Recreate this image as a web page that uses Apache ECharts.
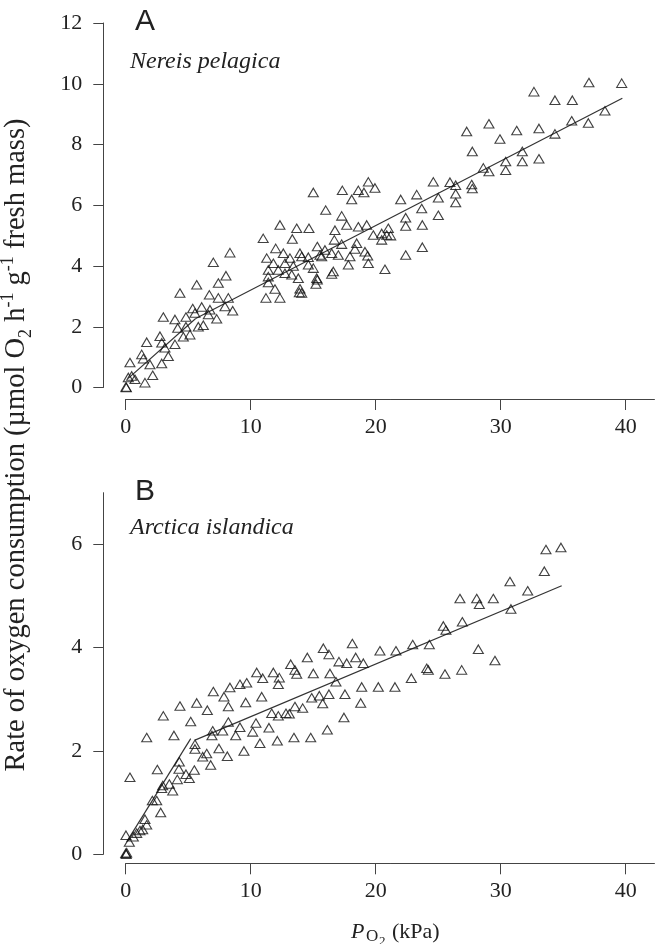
<!DOCTYPE html>
<html>
<head>
<meta charset="utf-8">
<title>Oxygen consumption</title>
<script type="text/javascript" src="https://cdn.jsdelivr.net/npm/echarts@6/dist/echarts.min.js"></script>
<style>html,body{margin:0;padding:0;background:#fff;}</style>
</head>
<body>
<div id="main" style="width:657px;height:944px;"></div>
<script type="text/javascript">
// tick values
var xTicks = [0, 10, 20, 30, 40];
var yTicksA = [0, 2, 4, 6, 8, 10, 12];
var yTicksB = [0, 2, 4, 6];

// A: Nereis pelagica  [PO2 kPa, rate]
var nereis = [
  [11.0,4.91],[12.0,4.58],[8.34,4.44],[11.28,4.26],[7.01,4.12],[11.81,4.09],[11.41,3.87],[12.21,3.87],
  [8.02,3.68],[5.68,3.38],[7.41,3.44],[11.41,3.65],[11.41,3.46],[11.94,3.24],[4.34,3.11],[6.69,3.05],
  [7.41,2.95],[8.21,2.95],[11.22,2.95],[12.34,2.95],[5.36,2.60],[6.08,2.65],[6.74,2.56],[7.94,2.67],
  [8.56,2.53],[3.01,2.32],[3.94,2.24],[4.82,2.32],[5.54,2.45],[6.61,2.40],[7.28,2.26],[6.21,2.05],
  [5.81,2.00],[4.16,1.96],[4.82,2.00],[5.14,1.74],[4.61,1.67],[2.74,1.69],[1.68,1.49],[2.88,1.47],
  [3.94,1.42],[3.14,1.31],[3.41,1.03],[1.28,1.09],[1.41,0.95],[1.94,0.76],[2.88,0.79],[0.34,0.82],
  [2.16,0.40],[0.48,0.38],[0.74,0.27],[1.54,0.16],[0.02,0.02],[0.21,0.33],[0.05,0.0],
  [19.41,6.77],[24.61,6.77],[15.01,6.42],[17.33,6.49],[18.61,6.49],[19.94,6.57],[19.06,6.42],[18.08,6.19],
  [22.0,6.19],[23.28,6.35],[25.01,6.25],[16.0,5.84],[23.68,5.89],[17.28,5.65],[22.4,5.59],[12.34,5.35],
  [13.68,5.24],[14.66,5.24],[16.74,5.18],[17.68,5.35],[18.61,5.29],[19.28,5.35],[22.4,5.32],[23.73,5.35],
  [21.01,5.24],[19.81,5.02],[20.48,5.07],[20.88,5.02],[21.2,5.0],[20.48,4.86],[13.33,4.89],[16.69,4.86],
  [17.28,4.72],[18.48,4.75],[12.61,4.42],[13.94,4.42],[15.33,4.64],[15.94,4.53],[16.48,4.42],[17.01,4.36],
  [18.34,4.56],[19.14,4.47],[19.36,4.34],[22.4,4.36],[23.73,4.62],[25.01,5.67],[13.14,4.26],[14.08,4.31],
  [14.61,4.29],[15.54,4.36],[12.74,4.09],[13.41,4.0],[14.61,4.04],[15.01,3.93],[15.68,4.31],[17.94,4.31],
  [17.81,4.04],[19.41,4.09],[12.74,3.76],[13.28,3.71],[13.81,3.6],[15.28,3.6],[16.61,3.82],[16.48,3.74],
  [20.74,3.89],[13.94,3.25],[13.89,3.13],[15.22,3.41],[15.33,3.55],[14.08,3.11],
  [37.06,10.04],[39.68,10.02],[32.66,9.74],[34.34,9.46],[35.73,9.46],[38.34,9.11],[35.68,8.78],[37.01,8.71],
  [27.28,8.43],[29.06,8.68],[31.28,8.46],[33.06,8.53],[34.34,8.35],[29.94,8.18],[27.73,7.77],[31.73,7.77],
  [30.4,7.44],[31.73,7.44],[33.06,7.53],[28.61,7.23],[29.06,7.11],[30.4,7.15],[25.94,6.76],[26.4,6.66],
  [27.68,6.68],[27.73,6.55],[26.4,6.38],[26.4,6.09]
];
var nereisFit1 = [[0.2, 0.3], [5.6, 2.27]];
var nereisFit2 = [[5.6, 2.27], [39.73, 9.52]];

// B: Arctica islandica  [PO2 kPa, rate]
var arctica = [
  [9.68,3.32],[9.14,3.29],[8.34,3.23],[7.01,3.15],[7.86,3.05],[9.6,2.94],[4.34,2.87],[5.68,2.93],
  [8.21,2.86],[6.53,2.79],[3.01,2.68],[5.2,2.57],[8.21,2.56],[9.14,2.46],[6.96,2.39],[7.76,2.39],
  [1.68,2.26],[3.86,2.3],[6.9,2.3],[8.8,2.3],[5.54,2.13],[5.54,2.04],[7.46,2.05],[9.46,2.0],
  [6.48,1.95],[6.16,1.89],[8.13,1.9],[6.8,1.73],[4.29,1.79],[5.49,1.63],[2.53,1.64],[4.26,1.65],
  [4.82,1.55],[5.09,1.47],[4.13,1.45],[0.34,1.49],[2.96,1.33],[3.49,1.36],[2.88,1.28],[3.76,1.23],
  [2.13,1.04],[2.48,1.04],[2.8,0.81],[1.54,0.68],[1.68,0.57],[1.36,0.48],[1.14,0.46],[0.88,0.41],
  [0.61,0.34],[0.02,0.37],[0.29,0.24],[0.0,0.02],[0.08,0.03],[0.04,0.0],
  [25.41,4.42],[25.62,4.34],[18.13,4.08],[15.81,3.99],[16.26,3.87],[20.34,3.94],[21.62,3.94],[22.96,4.06],
  [24.29,4.06],[14.53,3.81],[17.06,3.73],[17.68,3.70],[18.4,3.81],[19.01,3.70],[13.2,3.68],[13.54,3.57],
  [13.68,3.49],[10.48,3.52],[11.81,3.52],[10.96,3.41],[12.29,3.42],[12.21,3.29],[15.01,3.50],[16.34,3.50],
  [16.82,3.34],[24.08,3.60],[24.21,3.57],[25.54,3.49],[22.85,3.41],[18.88,3.24],[20.21,3.24],[21.54,3.24],
  [10.88,3.05],[14.88,3.03],[15.49,3.07],[16.26,3.10],[15.76,2.92],[17.54,3.10],[18.8,2.93],[13.54,2.86],
  [14.16,2.83],[11.68,2.73],[12.21,2.68],[12.82,2.73],[13.09,2.72],[17.46,2.65],[10.42,2.54],[10.16,2.37],
  [11.46,2.45],[16.13,2.41],[10.74,2.15],[12.13,2.20],[13.46,2.26],[14.8,2.26],
  [33.62,5.90],[34.82,5.94],[33.49,5.48],[30.74,5.28],[32.16,5.10],[26.74,4.95],[28.08,4.95],[29.41,4.95],
  [28.29,4.84],[30.82,4.75],[26.93,4.50],[28.21,3.97],[29.54,3.75],[26.88,3.57]
];
var arcticaFit1 = [[0.08, 0.24], [5.2, 2.24]];
var arcticaFit2 = [[5.54, 2.21], [34.88, 5.2]];

var serif = '"Liberation Serif", "Times New Roman", serif';
var sans = '"Liberation Sans", Arial, sans-serif';
var ink = '#222';
var axisGrey = '#444';

var myChart = echarts.init(document.getElementById('main'), null, {renderer: 'canvas'});

function xAxisCfg(gridIndex, off) {
    return {
        type: 'value', gridIndex: gridIndex, min: 0, max: 42.3, offset: off,
        axisLine: {show: true, onZero: false, lineStyle: {color: axisGrey, width: 1}},
        axisTick: {show: true, length: 11, customValues: xTicks, lineStyle: {color: axisGrey}},
        axisLabel: {customValues: xTicks, margin: 17, fontFamily: serif, fontSize: 22, color: ink},
        splitLine: {show: false}
    };
}
function yAxisCfg(gridIndex, max, ticks) {
    return {
        type: 'value', gridIndex: gridIndex, min: 0, max: max, offset: 22.4,
        axisLine: {show: true, onZero: false, lineStyle: {color: axisGrey, width: 1}},
        axisTick: {show: true, length: 10, customValues: ticks, lineStyle: {color: axisGrey}},
        axisLabel: {customValues: ticks, margin: 21, fontFamily: serif, fontSize: 22, color: ink},
        splitLine: {show: false}
    };
}
function pts(data, i) {
    return {
        type: 'scatter', xAxisIndex: i, yAxisIndex: i, data: data,
        symbol: 'triangle', symbolSize: [10, 8.5],
        itemStyle: {color: 'rgba(0,0,0,0)', borderColor: '#111', borderWidth: 1.1},
        emphasis: {disabled: true}, z: 3
    };
}
function fit(data, i) {
    return {
        type: 'line', xAxisIndex: i, yAxisIndex: i, data: data,
        showSymbol: false, symbol: 'none',
        lineStyle: {color: '#333', width: 1.2},
        emphasis: {disabled: true}, z: 2
    };
}

myChart.setOption({
    animation: false,
    backgroundColor: '#fff',
    grid: [
        {left: 125.7, top: 23, width: 528.75, height: 364.5},
        {left: 125.7, top: 492.7, width: 528.75, height: 361.6}
    ],
    xAxis: [xAxisCfg(0, 11.5), xAxisCfg(1, 9)],
    yAxis: [yAxisCfg(0, 12, yTicksA), yAxisCfg(1, 7, yTicksB)],
    series: [
        fit(nereisFit1, 0), fit(nereisFit2, 0), pts(nereis, 0),
        fit(arcticaFit1, 1), fit(arcticaFit2, 1), pts(arctica, 1)
    ],
    graphic: [
        {type: 'text', x: 135, y: 22, style: {text: 'A', font: '30px ' + sans, fill: ink, verticalAlign: 'middle'}},
        {type: 'text', x: 130, y: 62, style: {text: 'Nereis pelagica', font: 'italic 24px ' + serif, fill: ink, verticalAlign: 'middle'}},
        {type: 'text', x: 135, y: 492, style: {text: 'B', font: '30px ' + sans, fill: ink, verticalAlign: 'middle'}},
        {type: 'text', x: 130, y: 528, style: {text: 'Arctica islandica', font: 'italic 24px ' + serif, fill: ink, verticalAlign: 'middle'}},
        // y axis title, reads bottom to top
        {
            type: 'text', x: 17, y: 445, rotation: Math.PI / 2,
            style: {
                text: '{n|Rate of oxygen consumption (µmol O}{sub|2}{n| h}{sup|-1}{n| g}{sup|-1}{n| fresh mass)}',
                align: 'center', verticalAlign: 'middle',
                rich: {
                    n: {fontFamily: serif, fontSize: 28.5, lineHeight: 36, fill: ink},
                    sub: {fontFamily: serif, fontSize: 18, lineHeight: 18, verticalAlign: 'bottom', fill: ink},
                    sup: {fontFamily: serif, fontSize: 18, lineHeight: 18, verticalAlign: 'top', fill: ink}
                }
            }
        },
        // x axis title: P with subscript O2
        {type: 'text', x: 351, y: 932, style: {text: 'P', font: 'italic 22px ' + serif, fill: ink, verticalAlign: 'middle'}},
        {type: 'text', x: 366, y: 937, style: {text: 'O', font: '17px ' + serif, fill: ink, verticalAlign: 'middle'}},
        {type: 'text', x: 379, y: 942, style: {text: '2', font: '13px ' + serif, fill: ink, verticalAlign: 'middle'}},
        {type: 'text', x: 392, y: 932, style: {text: '(kPa)', font: '22px ' + serif, fill: ink, verticalAlign: 'middle'}}
    ]
});
</script>
</body>
</html>
